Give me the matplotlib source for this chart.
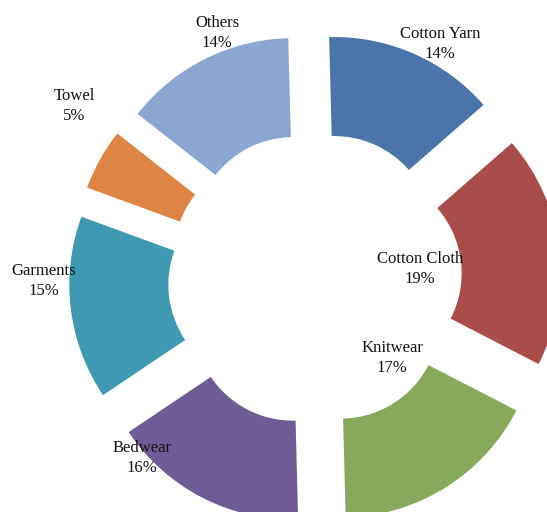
import matplotlib
matplotlib.use("Agg")
import matplotlib.pyplot as plt

categories = ["Cotton Yarn", "Cotton Cloth", "Knitwear", "Bedwear", "Garments", "Towel", "Others"]
shares = [14, 19, 17, 16, 15, 5, 14]
colors = ["#4A74AA", "#A94D4B", "#87A95B", "#6F5C97", "#4099B2", "#DE8546", "#8CA6D2"]
# label anchor positions (pixel coords, y from top)
label_pos = [(440, 44), (420, 269), (392, 358), (142, 458), (44, 281), (74, 106), (217, 33)]

W, H = 547, 512
fig = plt.figure(figsize=(W / 100, H / 100), dpi=100)
ax = fig.add_axes([0, 0, 1, 1])

cx, cy = 315, H - 279
R = 198
ring = 99
explode = [48] * len(shares)  # pie offsets are in data units

ax.pie(shares, colors=colors, startangle=91.5, counterclock=False,
       center=(cx, cy), radius=R, explode=explode,
       wedgeprops=dict(width=ring, linewidth=0))

for name, val, (px, py) in zip(categories, shares, label_pos):
    ax.text(px, H - py, f"{name}\n{val}%", ha="center", va="center",
            fontsize=12, family="Liberation Serif", linespacing=1.3,
            color="#111111")

ax.set_xlim(0, W)
ax.set_ylim(0, H)
ax.set_aspect("equal")
ax.axis("off")
fig.savefig("out.png", dpi=100)
